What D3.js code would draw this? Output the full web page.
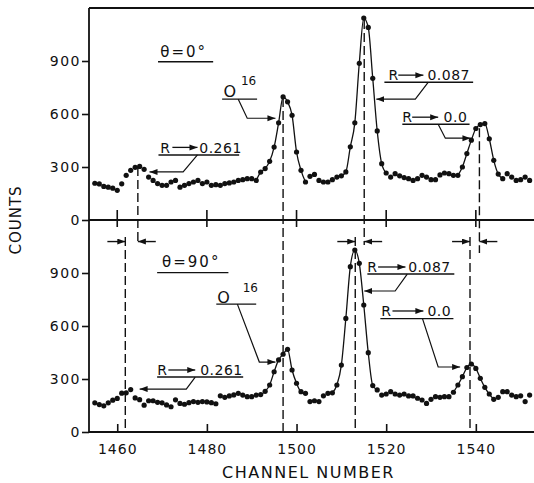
<!DOCTYPE html>
<html>
<head>
<meta charset="utf-8">
<script src="https://cdn.jsdelivr.net/npm/d3@7"></script>
<style>
  body { margin: 0; background: #fff; }
  text { font-family: "DejaVu Sans", sans-serif; fill: #111; }
</style>
</head>
<body>
<div id="chart"></div>
<script>
// channel of the first point in each spectrum, one point per channel
var FIRST_CH = 1455;

// theta = 0 deg spectrum (top)
var countsTop = [
  208, 204, 190, 186, 180, 168, 205, 253, 281, 298,
  303, 287, 243, 224, 206, 196, 196, 215, 224, 186,
  196, 206, 215, 224, 206, 215, 196, 200, 196, 206,
  210, 215, 224, 228, 234, 234, 224, 271, 291, 332,
  413, 550, 697, 669, 593, 385, 281, 215, 247, 258,
  224, 215, 215, 228, 243, 250, 272, 414, 550, 887,
  1143, 1090, 802, 504, 319, 266, 243, 262, 250, 240,
  234, 224, 234, 253, 243, 228, 228, 255, 266, 262,
  253, 253, 300, 376, 452, 518, 540, 546, 460, 338,
  260, 234, 262, 243, 224, 228, 243, 224
];

// theta = 90 deg spectrum (bottom)
var countsBot = [
  165, 155, 148, 165, 180, 190, 220, 222, 240, 193,
  183, 152, 177, 177, 168, 165, 153, 143, 182, 162,
  157, 166, 172, 168, 172, 170, 166, 160, 205, 196,
  204, 210, 219, 209, 200, 200, 209, 212, 230, 266,
  341, 408, 440, 468, 351, 276, 228, 219, 172, 177,
  172, 205, 219, 222, 266, 379, 643, 936, 1030, 955,
  719, 449, 263, 238, 209, 215, 228, 215, 209, 215,
  204, 204, 191, 181, 162, 185, 200, 196, 200, 200,
  225, 266, 313, 365, 385, 360, 304, 253, 215, 185,
  196, 228, 228, 209, 200, 205, 172, 209
];

// channel ranges through which the hand-drawn curve runs
var fitTop = [[1491, 1502], [1510, 1520], [1536, 1546]];
var fitBot = [[1492, 1502], [1508, 1518], [1535, 1544]];

var xTicks = [1460, 1480, 1500, 1520, 1540];
var yTicks = [0, 300, 600, 900];

// peak positions (channel) for R = 0.261, O16, 0.087, 0.0
var peakTop = [1464.6, 1497, 1515.1, 1540.8];
var peakBot = [1461.8, 1497, 1513.1, 1538.7];
// dashed lines: top-panel start counts, bottom-panel end counts
var dashTopFrom = [300, 690, 1132, 519];
var dashTopTo = [1058, 0, 1058, 1013];
var dashBotFrom = 1104;
var shiftArrowCounts = 1078;
var shiftArrowLen = 4;

// "R -> value" notes: ch = [R, arrow start, arrow end, value, underline from, underline to]
// cnt = [baseline, arrow, underline]
var rNotesTop = [
  { val: "0.261", ch: [1469.6, 1472.3, 1477.9, 1478.3, 1469.2, 1487.2], cnt: [377, 411, 368],
    lead: [[1477.9, 368], [1474.7, 272], [1467.2, 272]] },
  { val: "0.087", ch: [1520.5, 1522.7, 1528.3, 1529.2, 1519.6, 1539.4], cnt: [792, 820, 780],
    lead: [[1529.4, 780], [1526.5, 684], [1517.8, 684]] },
  { val: "0.0", ch: [1523.6, 1525.8, 1531.6, 1532.8, 1523.6, 1538.6], cnt: [553, 582, 542],
    lead: [[1531.6, 542], [1533.2, 463], [1538.8, 463]] }
];
var rNotesBot = [
  { val: "0.261", ch: [1468.9, 1471.4, 1477.4, 1478.5, 1468.9, 1488.1], cnt: [323, 351, 311],
    lead: [[1477.4, 311], [1475.4, 243], [1465.0, 243]] },
  { val: "0.087", ch: [1515.8, 1518.2, 1524.3, 1524.9, 1515.8, 1535.2], cnt: [906, 934, 894],
    lead: [[1524.7, 894], [1522.0, 798], [1515.1, 798]] },
  { val: "0.0", ch: [1518.9, 1521.4, 1528.3, 1529.2, 1518.7, 1535.0], cnt: [657, 685, 642],
    lead: [[1528.1, 642], [1531.6, 368], [1536.5, 368]] }
];
// O16 label: O at [ch, cnt], superscript, underline [from, to, cnt], leader
var oTop = { o: [1483.7, 695], sup: [1487.6, 765], line: [1483.4, 1491.2, 684],
  lead: [[1487.0, 684], [1489.0, 576], [1495.3, 576]] };
var oBot = { o: [1482.3, 730], sup: [1488.0, 790], line: [1482.1, 1491.0, 724],
  lead: [[1486.8, 724], [1491.7, 396], [1495.3, 396]] };
// angle labels
var thTop = { text: "θ=0°", at: [1469.6, 922], line: [1469.1, 1481.4, 896] };
var thBot = { text: "θ=90°", at: [1470.0, 934], line: [1468.9, 1484.8, 902] };

var W = 534, H = 483;
var svg = d3.select("#chart").append("svg").attr("width", W).attr("height", H);

var x = d3.scaleLinear().domain([1453.7, 1553.2]).range([89, 535]);
var yT = d3.scaleLinear().domain([0, 1200]).range([220, 8]);
var yB = d3.scaleLinear().domain([0, 1200]).range([432, 220]);

svg.append("defs").append("marker")
    .attr("id", "head")
    .attr("markerUnits", "userSpaceOnUse")
    .attr("markerWidth", 9).attr("markerHeight", 7)
    .attr("refX", 8).attr("refY", 3)
    .attr("orient", "auto")
  .append("path")
    .attr("d", "M0,0 L8,3 L0,6 Z")
    .attr("fill", "#111");

// frame
var frame = svg.append("g").attr("stroke", "#111").attr("stroke-width", 1.8).attr("fill", "none");
frame.append("line").attr("x1", x(1453.7)).attr("x2", x(1453.7)).attr("y1", yT(1200)).attr("y2", yB(0));
frame.append("line").attr("x1", x(1453.7)).attr("x2", W).attr("y1", yT(1200)).attr("y2", yT(1200));
frame.append("line").attr("x1", x(1453.7)).attr("x2", W).attr("y1", yT(0)).attr("y2", yT(0));
frame.append("line").attr("x1", x(1453.7)).attr("x2", W).attr("y1", yB(0)).attr("y2", yB(0));

// y axes
[yT, yB].forEach(function (y) {
  var g = svg.append("g")
      .attr("transform", "translate(" + x(1453.7) + ",0)")
      .call(d3.axisLeft(y).tickValues(yTicks).tickSize(7).tickSizeOuter(0).tickPadding(1));
  g.select(".domain").remove();
  g.selectAll("line").attr("stroke", "#111").attr("stroke-width", 1.6);
  g.selectAll("text").style("font-size", "14px").style("letter-spacing", "1.5px").attr("fill", "#111");
});

// middle axis: ticks crossing the line
svg.append("g").selectAll("line").data(xTicks).enter().append("line")
    .attr("x1", function (d) { return x(d); }).attr("x2", function (d) { return x(d); })
    .attr("y1", yT(0) - 10).attr("y2", yT(0) + 7)
    .attr("stroke", "#111").attr("stroke-width", 1.6);

// bottom axis
var xb = svg.append("g")
    .attr("transform", "translate(0," + yB(0) + ")")
    .call(d3.axisBottom(x).tickValues(xTicks).tickSizeInner(-8).tickSizeOuter(0).tickPadding(12)
      .tickFormat(d3.format("d")));
xb.select(".domain").remove();
xb.selectAll("line").attr("stroke", "#111").attr("stroke-width", 1.6);
xb.selectAll("text").style("font-size", "14px").style("letter-spacing", "1px").attr("fill", "#111");

svg.append("text")
    .attr("x", (x(1453.7) + W) / 2 - 3).attr("y", 478)
    .attr("text-anchor", "middle")
    .style("font-size", "16px").style("letter-spacing", "1.5px")
    .text("CHANNEL NUMBER");

svg.append("text")
    .attr("transform", "translate(21," + yT(0) + ") rotate(-90)")
    .attr("text-anchor", "middle")
    .style("font-size", "15px").style("letter-spacing", "1px")
    .text("COUNTS");

// dashed peak markers
var dash = svg.append("g").attr("stroke", "#111").attr("stroke-width", 1.4).attr("stroke-dasharray", "9,4");
peakTop.forEach(function (c, i) {
  dash.append("line").attr("x1", x(c)).attr("x2", x(c))
      .attr("y1", yT(dashTopFrom[i])).attr("y2", yB(dashTopTo[i]));
});
peakBot.forEach(function (c, i) {
  if (i === 1) return; // O16 line shared with top
  dash.append("line").attr("x1", x(c)).attr("x2", x(c))
      .attr("y1", yB(dashBotFrom)).attr("y2", yB(0));
});

// shift arrows between the panels
var shifts = svg.append("g").attr("stroke", "#111").attr("stroke-width", 1.4);
peakBot.forEach(function (c, i) {
  if (i === 1) return;
  shifts.append("line")
      .attr("x1", x(c - shiftArrowLen)).attr("x2", x(c))
      .attr("y1", yB(shiftArrowCounts)).attr("y2", yB(shiftArrowCounts))
      .attr("marker-end", "url(#head)");
  shifts.append("line")
      .attr("x1", x(peakTop[i] + shiftArrowLen)).attr("x2", x(peakTop[i]))
      .attr("y1", yB(shiftArrowCounts)).attr("y2", yB(shiftArrowCounts))
      .attr("marker-end", "url(#head)");
});

function drawSpectrum(counts, fits, y) {
  var pts = counts.map(function (v, i) { return [FIRST_CH + i, v]; });
  var line = d3.line()
      .x(function (d) { return x(d[0]); })
      .y(function (d) { return y(d[1]); })
      .curve(d3.curveMonotoneX);
  fits.forEach(function (r) {
    svg.append("path")
        .datum(pts.filter(function (d) { return d[0] >= r[0] && d[0] <= r[1]; }))
        .attr("d", line)
        .attr("fill", "none").attr("stroke", "#111").attr("stroke-width", 1.3);
  });
  svg.append("g").selectAll("circle").data(pts).enter().append("circle")
      .attr("cx", function (d) { return x(d[0]); })
      .attr("cy", function (d) { return y(d[1]); })
      .attr("r", 2.6)
      .attr("fill", "#111");
}
drawSpectrum(countsTop, fitTop, yT);
drawSpectrum(countsBot, fitBot, yB);

var leadLine = function (y) {
  return d3.line().x(function (d) { return x(d[0]); }).y(function (d) { return y(d[1]); });
};

function drawNotes(notes, o, th, y) {
  var g = svg.append("g");
  notes.forEach(function (n) {
    g.append("text").attr("x", x(n.ch[0])).attr("y", y(n.cnt[0]))
        .style("font-size", "14px").text("R");
    g.append("line")
        .attr("x1", x(n.ch[1])).attr("x2", x(n.ch[2]))
        .attr("y1", y(n.cnt[1])).attr("y2", y(n.cnt[1]))
        .attr("stroke", "#111").attr("stroke-width", 1.3)
        .attr("marker-end", "url(#head)");
    g.append("text").attr("x", x(n.ch[3])).attr("y", y(n.cnt[0]))
        .style("font-size", "14px").style("letter-spacing", "0.5px").text(n.val);
    g.append("line")
        .attr("x1", x(n.ch[4])).attr("x2", x(n.ch[5]))
        .attr("y1", y(n.cnt[2])).attr("y2", y(n.cnt[2]))
        .attr("stroke", "#111").attr("stroke-width", 1.4);
    g.append("path").attr("d", leadLine(y)(n.lead))
        .attr("fill", "none").attr("stroke", "#111").attr("stroke-width", 1.2)
        .attr("marker-end", "url(#head)");
  });
  g.append("text").attr("x", x(o.o[0])).attr("y", y(o.o[1]))
      .style("font-size", "16px").text("O");
  g.append("text").attr("x", x(o.sup[0])).attr("y", y(o.sup[1]))
      .style("font-size", "12px").text("16");
  g.append("line")
      .attr("x1", x(o.line[0])).attr("x2", x(o.line[1]))
      .attr("y1", y(o.line[2])).attr("y2", y(o.line[2]))
      .attr("stroke", "#111").attr("stroke-width", 1.4);
  g.append("path").attr("d", leadLine(y)(o.lead))
      .attr("fill", "none").attr("stroke", "#111").attr("stroke-width", 1.2)
      .attr("marker-end", "url(#head)");
  g.append("text").attr("x", x(th.at[0])).attr("y", y(th.at[1]))
      .style("font-size", "15px").style("letter-spacing", "2px").text(th.text);
  g.append("line")
      .attr("x1", x(th.line[0])).attr("x2", x(th.line[1]))
      .attr("y1", y(th.line[2])).attr("y2", y(th.line[2]))
      .attr("stroke", "#111").attr("stroke-width", 1.4);
}
drawNotes(rNotesTop, oTop, thTop, yT);
drawNotes(rNotesBot, oBot, thBot, yB);
</script>
</body>
</html>
